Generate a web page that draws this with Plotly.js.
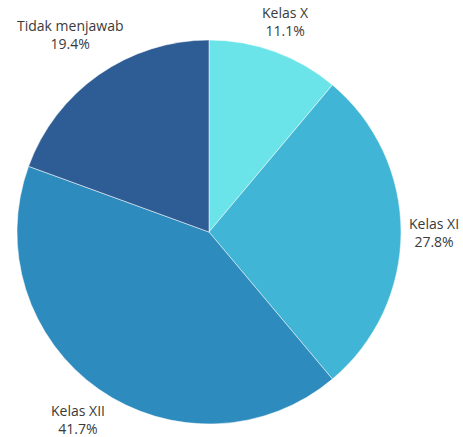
<!DOCTYPE html>
<html>
<head>
<meta charset="utf-8">
<script src="https://cdn.plot.ly/plotly-3.0.1.min.js"></script>
<style>html,body{margin:0;padding:0;background:#fff;}#chart{width:463px;height:437px;}</style>
</head>
<body>
<div id="chart"></div>
<script>
const categories = ["Kelas X", "Kelas XI", "Kelas XII", "Tidak menjawab"];
const counts = [4, 10, 15, 7];
const colors = ["#6ae4e9", "#41b5d6", "#2d8bbd", "#2e5d96"];

const W = 463, H = 437;
const margin = {l: 17, r: 62, t: 40, b: 13};
const fontSize = 14;
const fontFamily = "Open Sans";
const lineH = 18;
const gap = 7;

// geometry of the pie as Plotly lays it out (domain = full plot area)
const pw = W - margin.l - margin.r, ph = H - margin.t - margin.b;
const cx = margin.l + pw / 2, cy = margin.t + ph / 2;
const R = Math.min(pw, ph) / 2;

const total = counts.reduce((a, b) => a + b, 0);
const ctx = document.createElement("canvas").getContext("2d");
ctx.font = fontSize + "px '" + fontFamily + "'";

let cum = 0;
const annotations = categories.map((cat, i) => {
  const pct = (100 * counts[i] / total).toFixed(1) + "%";
  const mid = (cum + counts[i] / 2) / total * 2 * Math.PI; // clockwise from 12 o'clock
  cum += counts[i];
  const ux = Math.sin(mid), uy = -Math.cos(mid);
  const w = Math.max(ctx.measureText(cat).width, ctx.measureText(pct).width);
  const h = 2 * lineH;
  // push label centre outward along the mid-angle ray until its box clears the pie
  let d = R;
  for (; d < R + 200; d += 0.5) {
    const bx = d * ux, by = d * uy;
    const nx = Math.max(bx - w / 2, Math.min(0, bx + w / 2));
    const ny = Math.max(by - h / 2, Math.min(0, by + h / 2));
    if (Math.hypot(nx, ny) >= R + gap) break;
  }
  const px = cx + d * ux, py = cy + d * uy;
  return {
    x: (px - margin.l) / pw, y: 1 - (py - margin.t) / ph,
    xref: "paper", yref: "paper", xanchor: "center", yanchor: "middle",
    text: cat + "<br>" + pct, showarrow: false, align: "center",
    font: {family: fontFamily, size: fontSize, color: "#3a3a3a"}
  };
});

Plotly.newPlot("chart", [{
  type: "pie",
  labels: categories,
  values: counts,
  sort: false,
  direction: "clockwise",
  rotation: 0,
  marker: {colors: colors, line: {color: "#ffffff", width: 0.5}},
  textinfo: "none",
  hoverinfo: "none"
}], {
  width: W,
  height: H,
  showlegend: false,
  margin: margin,
  paper_bgcolor: "#ffffff",
  annotations: annotations
}, {displayModeBar: false, staticPlot: true});
</script>
</body>
</html>
